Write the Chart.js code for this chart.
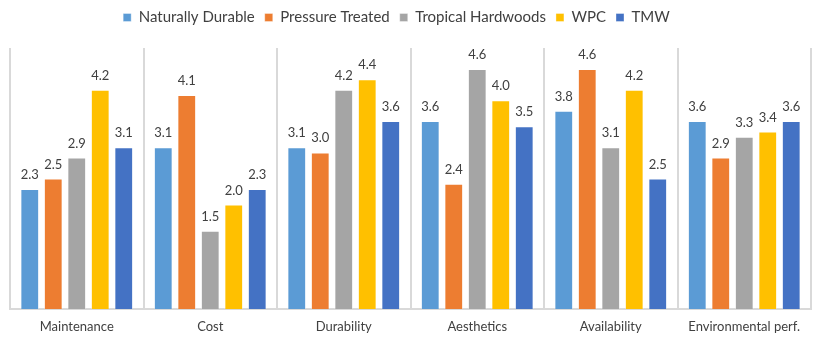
<!DOCTYPE html>
<html>
<head>
<meta charset="utf-8">
<script src="https://cdn.jsdelivr.net/npm/chart.js@4/dist/chart.umd.min.js"></script>
<style>
  html, body { margin: 0; padding: 0; background: #ffffff; }
  #wrap { width: 817px; height: 339px; }
</style>
</head>
<body>
<div id="wrap"><canvas id="c" width="817" height="339"></canvas></div>
<script>
// Ratings per criterion for each decking material
const categories = ['Maintenance', 'Cost', 'Durability', 'Aesthetics', 'Availability', 'Environmental perf.'];
const naturallyDurable  = [2.3, 3.1, 3.1, 3.6, 3.8, 3.6];
const pressureTreated   = [2.5, 4.1, 3.0, 2.4, 4.6, 2.9];
const tropicalHardwoods = [2.9, 1.5, 4.2, 4.6, 3.1, 3.3];
const wpc               = [4.2, 2.0, 4.4, 4.0, 4.2, 3.4];
const tmw               = [3.1, 2.3, 3.6, 3.5, 2.5, 3.6];

const seriesNames  = ['Naturally Durable', 'Pressure Treated', 'Tropical Hardwoods', 'WPC', 'TMW'];
const seriesValues = [naturallyDurable, pressureTreated, tropicalHardwoods, wpc, tmw];
const seriesColors = ['#5B9BD5', '#ED7D31', '#A5A5A5', '#FFC000', '#4472C4'];

const FONT = 'Lato, "Open Sans", "DejaVu Sans", sans-serif';

// Writes each bar's value above it
const valueLabels = {
  id: 'valueLabels',
  afterDatasetsDraw(chart) {
    const ctx = chart.ctx;
    ctx.save();
    ctx.font = '13px ' + FONT;
    ctx.fillStyle = '#404040';
    ctx.textAlign = 'center';
    ctx.textBaseline = 'alphabetic';
    chart.data.datasets.forEach((ds, i) => {
      const meta = chart.getDatasetMeta(i);
      meta.data.forEach((bar, j) => {
        ctx.fillText(ds.data[j].toFixed(1), bar.x, bar.y - 10);
      });
    });
    ctx.restore();
  }
};

// Gives the legend a fixed block height and nudges it a little to the left
const legendSpacing = {
  id: 'legendSpacing',
  beforeInit(chart) {
    const legend = chart.legend;
    const fit = legend.fit;
    legend.fit = function () {
      fit.call(this);
      this.height = 48;
    };
  },
  afterLayout(chart) {
    const legend = chart.legend;
    legend.left -= 14;
    legend.right -= 14;
  }
};

new Chart(document.getElementById('c'), {
  type: 'bar',
  data: {
    labels: categories,
    datasets: seriesNames.map((name, i) => ({
      label: name,
      data: seriesValues[i],
      backgroundColor: seriesColors[i],
      borderColor: 'rgba(255,255,255,0.35)',
      borderWidth: 1,
      barPercentage: 0.8,
      categoryPercentage: 0.88
    }))
  },
  options: {
    responsive: false,
    animation: false,
    layout: { padding: { left: 10, right: 6, top: 0, bottom: 0 } },
    plugins: {
      tooltip: { enabled: false },
      legend: {
        position: 'top',
        labels: {
          boxWidth: 8,
          boxHeight: 8,
          padding: 10,
          color: '#404040',
          font: { family: FONT, size: 15 }
        }
      }
    },
    scales: {
      x: {
        offset: true,
        grid: { display: true, offset: true, color: '#d9d9d9', lineWidth: 2, drawTicks: false },
        border: { display: true, color: '#d9d9d9', width: 2 },
        ticks: { color: '#404040', padding: 10, font: { family: FONT, size: 13 } },
        afterFit(scale) { scale.height = 30; }
      },
      y: {
        display: false,
        min: 0,
        max: 5
      }
    }
  },
  plugins: [valueLabels, legendSpacing]
});
</script>
</body>
</html>
